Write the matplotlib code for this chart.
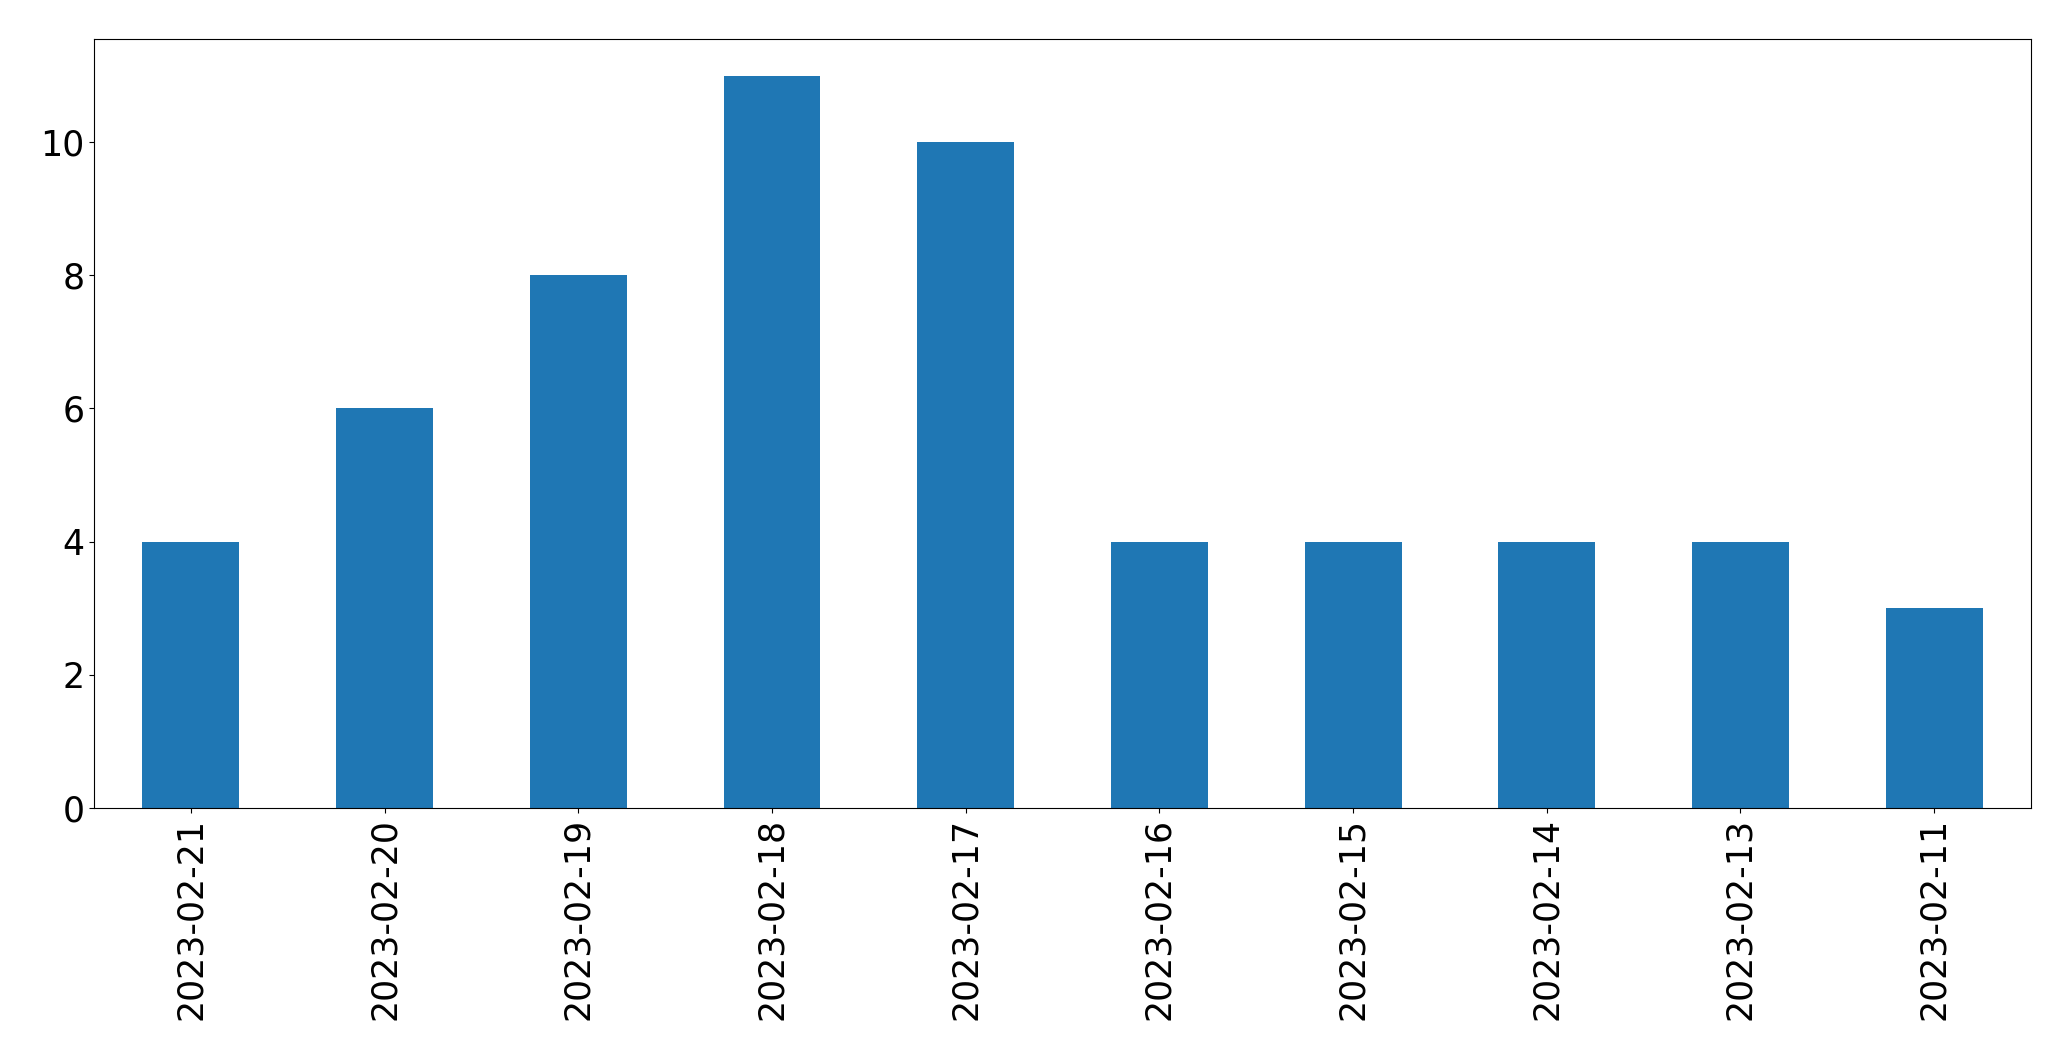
import matplotlib
matplotlib.use("Agg")
import matplotlib.pyplot as plt
import numpy as np

dates = ["2023-02-21", "2023-02-20", "2023-02-19", "2023-02-18", "2023-02-17",
         "2023-02-16", "2023-02-15", "2023-02-14", "2023-02-13", "2023-02-11"]
counts = [4, 6, 8, 11, 10, 4, 4, 4, 4, 3]

fig = plt.figure(figsize=(20.71, 10.61), dpi=100)
ax = fig.add_axes([0.0454, 0.2385, 0.9353, 0.7248])
x = np.arange(len(dates))
ax.bar(x, counts, width=0.5, color="#1f77b4")
ax.set_xlim(-0.5, len(dates) - 0.5)
ax.set_xticks(x)
ax.set_xticklabels(dates, rotation=90)
ax.tick_params(labelsize=25)
fig.savefig("out.png", dpi=100)
